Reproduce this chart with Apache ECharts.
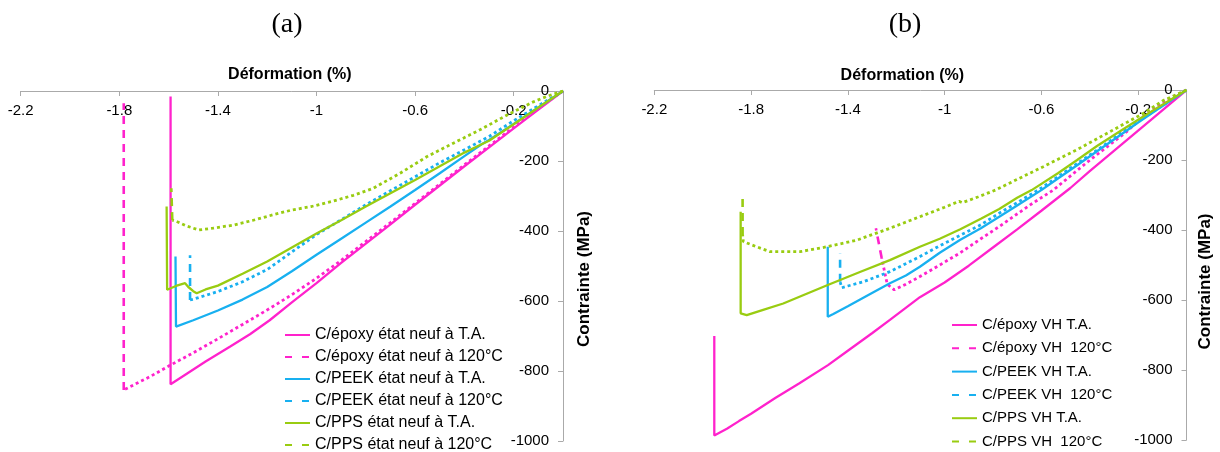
<!DOCTYPE html>
<html>
<head>
<meta charset="utf-8">
<script src="https://cdn.jsdelivr.net/npm/echarts@6/dist/echarts.min.js"></script>
<style>
html,body{margin:0;padding:0;background:#fff;}
#chart{width:1220px;height:452px;}
</style>
</head>
<body>
<div id="chart"></div>
<script>
// ---------- tick labels ----------
const xTickValues = [-2.2, -1.8, -1.4, -1, -0.6, -0.2];
const yTickValues = [0, -200, -400, -600, -800, -1000];

// ---------- series names ----------
const namesA = ["C/époxy état neuf à T.A.", "C/époxy état neuf à 120°C", "C/PEEK état neuf à T.A.", "C/PEEK état neuf à 120°C", "C/PPS état neuf à T.A.", "C/PPS état neuf à 120°C"];
const namesB = ["C/époxy VH T.A.", "C/époxy VH  120°C", "C/PEEK VH T.A.", "C/PEEK VH  120°C", "C/PPS VH T.A.", "C/PPS VH  120°C"];

// ---------- panel (a) data : [déformation %, contrainte MPa] ----------
const epoxyA_TA = [[0,0],[-0.1,-53],[-0.2,-107],[-0.3,-161],[-0.4,-215],[-0.5,-270],[-0.6,-325],[-0.7,-381],[-0.8,-436],[-0.9,-491],[-1.0,-549],[-1.1,-604],[-1.19,-655],[-1.27,-695],[-1.35,-730],[-1.45,-773],[-1.52,-805],[-1.592,-838],[-1.592,-16]];
const epoxyA_120 = [[0,0],[-0.1,-50],[-0.2,-103],[-0.3,-157],[-0.4,-211],[-0.5,-266],[-0.6,-321],[-0.7,-376],[-0.8,-430],[-0.9,-484],[-1.0,-535],[-1.1,-582],[-1.189,-621],[-1.3,-667],[-1.4,-708],[-1.5,-748],[-1.6,-786],[-1.675,-816],[-1.782,-854],[-1.782,-35]];
const peekA_TA = [[0,0],[-0.1,-47],[-0.2,-94],[-0.3,-140],[-0.33,-152],[-0.4,-186],[-0.5,-235],[-0.6,-283],[-0.7,-330],[-0.8,-376],[-0.9,-422],[-1.0,-468],[-1.1,-515],[-1.2,-560],[-1.3,-596],[-1.4,-627],[-1.5,-655],[-1.57,-673],[-1.572,-473]];
const peekA_120 = [[0,0],[-0.1,-42],[-0.2,-85],[-0.3,-130],[-0.4,-168],[-0.5,-205],[-0.6,-245],[-0.7,-285],[-0.8,-325],[-0.9,-368],[-1.0,-410],[-1.1,-460],[-1.2,-510],[-1.3,-545],[-1.4,-573],[-1.5,-595],[-1.513,-597],[-1.513,-469]];
const ppsA_TA = [[0,0],[-0.1,-47],[-0.2,-95],[-0.3,-142],[-0.33,-152],[-0.4,-176],[-0.5,-215],[-0.6,-254],[-0.7,-292],[-0.8,-330],[-0.9,-369],[-1.0,-407],[-1.1,-447],[-1.2,-487],[-1.3,-522],[-1.4,-556],[-1.45,-567],[-1.486,-578],[-1.5,-572],[-1.52,-560],[-1.533,-549],[-1.57,-557],[-1.606,-568],[-1.608,-330]];
const ppsA_120 = [[0,0],[-0.06,-14],[-0.12,-31],[-0.228,-69],[-0.337,-111],[-0.445,-149],[-0.553,-188],[-0.661,-235],[-0.77,-278],[-0.85,-298],[-0.93,-314],[-1.02,-330],[-1.1,-340],[-1.178,-354],[-1.26,-370],[-1.336,-383],[-1.42,-392],[-1.478,-397],[-1.53,-385],[-1.57,-372],[-1.585,-369],[-1.589,-278]];

// ---------- panel (b) data ----------
const epoxyB_TA = [[0,0],[-0.1,-58],[-0.2,-116],[-0.3,-174],[-0.4,-232],[-0.48,-280],[-0.6,-345],[-0.7,-398],[-0.8,-450],[-0.9,-502],[-1.0,-550],[-1.102,-592],[-1.226,-657],[-1.3,-695],[-1.4,-745],[-1.482,-786],[-1.6,-838],[-1.7,-880],[-1.8,-925],[-1.85,-946],[-1.9,-968],[-1.952,-987],[-1.952,-703]];
const epoxyB_120 = [[0,0],[-0.068,-24],[-0.179,-76],[-0.247,-119],[-0.32,-158],[-0.399,-200],[-0.47,-240],[-0.551,-286],[-0.65,-330],[-0.774,-390],[-0.85,-425],[-0.935,-465],[-1.02,-500],[-1.102,-533],[-1.16,-555],[-1.208,-571],[-1.237,-555],[-1.26,-480],[-1.284,-395]];
const peekB_TA = [[0,0],[-0.13,-60],[-0.2,-93],[-0.291,-137],[-0.37,-175],[-0.452,-215],[-0.53,-252],[-0.6,-286],[-0.7,-330],[-0.774,-362],[-0.85,-395],[-0.935,-428],[-1.02,-465],[-1.102,-505],[-1.16,-530],[-1.226,-552],[-1.3,-580],[-1.4,-618],[-1.46,-640],[-1.483,-648],[-1.483,-448]];
const peekB_120 = [[0,0],[-0.13,-58],[-0.2,-90],[-0.291,-133],[-0.37,-172],[-0.452,-210],[-0.53,-247],[-0.6,-280],[-0.7,-322],[-0.774,-352],[-0.85,-385],[-0.935,-415],[-1.02,-445],[-1.102,-476],[-1.226,-519],[-1.336,-548],[-1.4,-560],[-1.425,-565],[-1.432,-548],[-1.432,-467]];
const ppsB_TA = [[0,0],[-0.13,-55],[-0.2,-85],[-0.291,-125],[-0.37,-160],[-0.452,-200],[-0.53,-237],[-0.64,-286],[-0.7,-308],[-0.774,-340],[-0.85,-368],[-0.935,-398],[-1.02,-425],[-1.102,-448],[-1.226,-486],[-1.35,-520],[-1.483,-557],[-1.58,-585],[-1.667,-610],[-1.75,-628],[-1.818,-643],[-1.843,-638],[-1.843,-348]];
const ppsB_120 = [[0,0],[-0.096,-30],[-0.179,-67],[-0.316,-119],[-0.454,-171],[-0.592,-219],[-0.69,-252],[-0.79,-286],[-0.86,-305],[-0.927,-322],[-0.94,-318],[-1.0,-335],[-1.102,-362],[-1.226,-395],[-1.363,-429],[-1.487,-448],[-1.598,-462],[-1.722,-462],[-1.777,-448],[-1.832,-433],[-1.835,-414],[-1.835,-295]];

const MAGENTA = '#FF22CC', BLUE = '#18B0F0', GREEN = '#99CC11';
const FONT = '"Liberation Sans", Arial, sans-serif';

function mk(name, arr, color, dashed, idx) {
  const base = {type: 'line', name: name, xAxisIndex: idx, yAxisIndex: idx,
    symbol: 'none', showSymbol: false, animation: false, silent: true};
  if (!dashed) {
    return [Object.assign({}, base, {data: arr, lineStyle: {color: color, width: 2.3}, itemStyle: {color: color}})];
  }
  return [
    Object.assign({}, base, {data: arr.slice(-2), lineStyle: {color: color, width: 2.6, type: [8, 6]}, itemStyle: {color: color}}),
    Object.assign({}, base, {data: arr.slice(0, -1), lineStyle: {color: color, width: 2.8, type: [3, 3]}, itemStyle: {color: color}})
  ];
}

const seriesA = [].concat(
  mk(namesA[0], epoxyA_TA, MAGENTA, false, 0),
  mk(namesA[1], epoxyA_120, MAGENTA, true, 0),
  mk(namesA[2], peekA_TA, BLUE, false, 0),
  mk(namesA[3], peekA_120, BLUE, true, 0),
  mk(namesA[4], ppsA_TA, GREEN, false, 0),
  mk(namesA[5], ppsA_120, GREEN, true, 0)
);
const seriesB = [].concat(
  mk(namesB[0], epoxyB_TA, MAGENTA, false, 1),
  mk(namesB[1], epoxyB_120, MAGENTA, true, 1),
  mk(namesB[2], peekB_TA, BLUE, false, 1),
  mk(namesB[3], peekB_120, BLUE, true, 1),
  mk(namesB[4], ppsB_TA, GREEN, false, 1),
  mk(namesB[5], ppsB_120, GREEN, true, 1)
);

function legendData(names) {
  return names.map((n, i) => i % 2 === 1 ? {name: n, lineStyle: {type: [7, 10]}} : {name: n});
}

function xAx(idx, namePad, nameGap) {
  return {
    type: 'value', gridIndex: idx, position: 'top', min: -2.2, max: 0,
    name: 'Déformation (%)', nameLocation: 'middle', nameGap: nameGap,
    nameTextStyle: {fontFamily: FONT, fontWeight: 'bold', fontSize: 16, color: '#000', padding: namePad},
    axisLine: {onZero: false, lineStyle: {color: '#AAAAAA', width: 1}},
    axisTick: {show: true, inside: true, length: 5, lineStyle: {color: '#AAAAAA'}, customValues: xTickValues},
    axisLabel: {inside: true, margin: 12, fontFamily: FONT, fontSize: 15, color: '#000', customValues: xTickValues,
      formatter: v => String(v)},
    splitLine: {show: false}
  };
}
function yAx(idx, namePad, nameGap) {
  return {
    type: 'value', gridIndex: idx, position: 'right', min: -1000, max: 0, interval: 200,
    name: 'Contrainte (MPa)', nameLocation: 'middle', nameGap: nameGap, nameRotate: 90,
    nameTextStyle: {fontFamily: FONT, fontWeight: 'bold', fontSize: 17, color: '#000', padding: namePad},
    axisLine: {onZero: false, lineStyle: {color: '#AAAAAA', width: 1}},
    axisTick: {show: true, inside: true, length: 5, lineStyle: {color: '#AAAAAA'}},
    axisLabel: {inside: true, margin: 14, fontFamily: FONT, fontSize: 15, color: '#000', customValues: yTickValues,
      formatter: v => String(v)},
    splitLine: {show: false}
  };
}

const chart = echarts.init(document.getElementById('chart'), null, {renderer: 'canvas'});
chart.setOption({
  backgroundColor: '#fff',
  animation: false,
  graphic: [
    {type: 'text', x: 287, y: 25, style: {text: '(a)', font: '28px "Liberation Serif", "Times New Roman", serif', fill: '#000', align: 'center', verticalAlign: 'middle'}},
    {type: 'text', x: 905, y: 25, style: {text: '(b)', font: '28px "Liberation Serif", "Times New Roman", serif', fill: '#000', align: 'center', verticalAlign: 'middle'}}
  ],
  grid: [
    {left: 20.7, top: 91, width: 542.3, height: 350},
    {left: 654.3, top: 90, width: 532.2, height: 350}
  ],
  xAxis: [xAx(0, [0, 4, 0, 0], 8), xAx(1, [0, 36, 0, 0], 6)],
  yAxis: [yAx(0, [0, 26, 0, 0], 13), yAx(1, [0, 33, 0, 0], 10)],
  legend: [
    {data: legendData(namesA), orient: 'vertical', left: 284, top: 326, height: 150, padding: 0,
     itemWidth: 25, itemHeight: 12, itemGap: 4, itemStyle: {opacity: 0},
     textStyle: {fontFamily: FONT, fontSize: 16, color: '#000', lineHeight: 18}, selectedMode: false},
    {data: legendData(namesB), orient: 'vertical', left: 951, top: 316, height: 150, padding: 0,
     itemWidth: 25, itemHeight: 12, itemGap: 5.3, itemStyle: {opacity: 0},
     textStyle: {fontFamily: FONT, fontSize: 15, color: '#000', lineHeight: 18}, selectedMode: false}
  ],
  series: seriesA.concat(seriesB)
});
</script>
</body>
</html>
